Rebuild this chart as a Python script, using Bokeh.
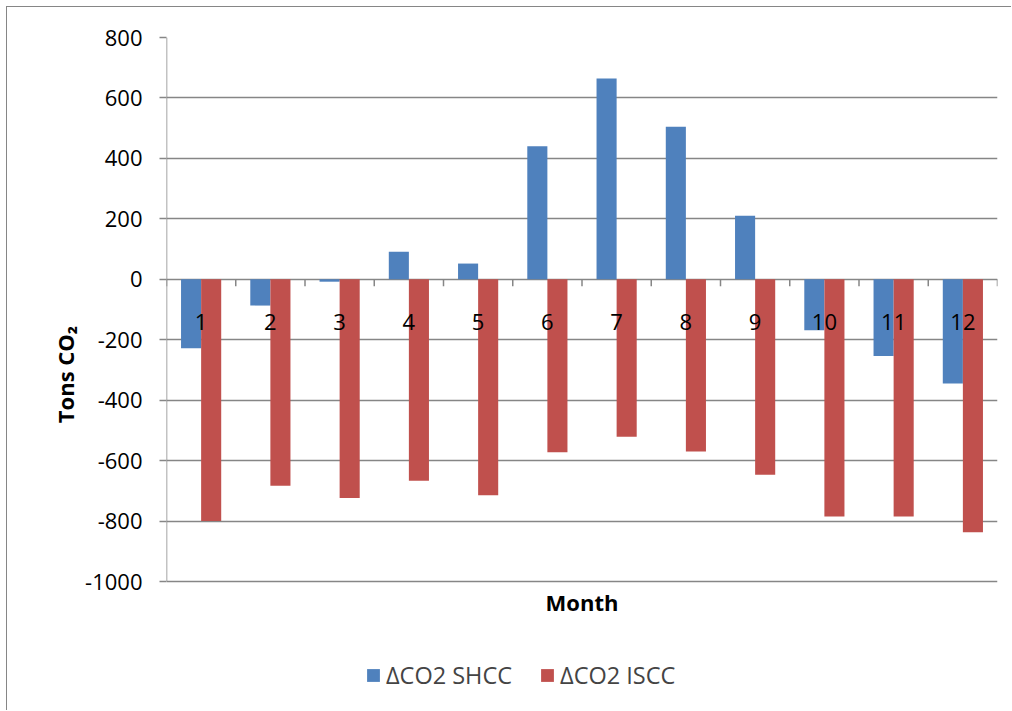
from bokeh.plotting import figure
from bokeh.models import Range1d, FixedTicker, Legend, LegendItem, ColumnDataSource, PrintfTickFormatter
from bokeh.core.properties import value
from bokeh.embed import file_html
from bokeh.resources import INLINE

# Monthly change in CO2 emissions (tons)
months = [1, 2, 3, 4, 5, 6, 7, 8, 9, 10, 11, 12]
month_labels = [str(m) for m in months]
delta_shcc = [-228, -87, -8, 91, 52, 440, 664, 505, 210, -169, -254, -345]
delta_iscc = [-800, -683, -724, -667, -715, -572, -521, -570, -647, -785, -785, -837]
y_ticks = [-1000, -800, -600, -400, -200, 0, 200, 400, 600, 800]
series_names = ["\u0394CO2 SHCC", "\u0394CO2 ISCC"]
x_title = "Month"
y_title = "Tons CO\u2082"

FONT = "Open Sans"
GRID = "#868686"
BLUE = "#4F81BD"
RED = "#C0504D"

Y_MIN, Y_MAX = -1000, 800
FIG_H = 704
TOP_PX = 30
FRAME_PX = FIG_H - TOP_PX      # frame runs to the bottom edge; room below -1000 holds title and legend
GRID_PX = 544                  # pixels spanned by the value scale
units_per_px = (Y_MAX - Y_MIN) / GRID_PX
y_low = Y_MIN - (FRAME_PX - GRID_PX) * units_per_px

BAR_W = 0.29
OFFSET = 0.145
X_LO, X_HI = 0.5, 12.5

p = figure(
    width=1005, height=FIG_H,
    x_range=Range1d(X_LO, X_HI), y_range=Range1d(y_low, Y_MAX),
    output_backend="svg", toolbar_location=None, x_axis_location=None,
    min_border_left=159, min_border_top=TOP_PX, min_border_right=15, min_border_bottom=0,
)
p.margin = (6, 0, 0, 6)
p.styles = {"border-left": f"1px solid {GRID}", "border-top": f"1px solid {GRID}"}
p.outline_line_color = None
p.background_fill_color = "white"
p.border_fill_color = "white"

# y axis (its line is drawn separately so it stops at -1000)
p.yaxis.ticker = FixedTicker(ticks=y_ticks)
p.yaxis.formatter = PrintfTickFormatter(format="%d")
p.yaxis.axis_line_color = None
p.yaxis.major_tick_line_color = GRID
p.yaxis.major_tick_line_width = 1.5
p.yaxis.major_tick_out = 7
p.yaxis.major_tick_in = 0
p.yaxis.minor_tick_line_color = None
p.yaxis.major_label_standoff = 17
p.yaxis.major_label_text_font = FONT
p.yaxis.major_label_text_font_size = "22px"
p.yaxis.major_label_text_color = "black"
p.yaxis.axis_label = y_title
p.yaxis.axis_label_text_font = FONT
p.yaxis.axis_label_text_font_style = "bold"
p.yaxis.axis_label_text_font_size = "22px"
p.yaxis.axis_label_text_color = "black"
p.yaxis.axis_label_standoff = 2

p.xgrid.grid_line_color = None
p.ygrid.ticker = FixedTicker(ticks=y_ticks)
p.ygrid.grid_line_color = GRID
p.ygrid.grid_line_width = 1.5

p.segment(x0=[X_LO], y0=[Y_MIN], x1=[X_LO], y1=[Y_MAX], line_color=GRID, line_width=1.5)

src = ColumnDataSource(dict(
    x_shcc=[m - OFFSET for m in months],
    x_iscc=[m + OFFSET for m in months],
    shcc=delta_shcc,
    iscc=delta_iscc,
))
r1 = p.vbar(x="x_shcc", top="shcc", bottom=0, width=BAR_W, source=src,
            fill_color=BLUE, line_color=None)
r2 = p.vbar(x="x_iscc", top="iscc", bottom=0, width=BAR_W, source=src,
            fill_color=RED, line_color=None)

# category axis along y = 0: boundary ticks and month labels
bounds = [m + 0.5 for m in [0] + months]
p.segment(x0=bounds, y0=[0] * len(bounds), x1=bounds,
          y1=[-7 * units_per_px] * len(bounds), line_color=GRID, line_width=1.5)
p.text(x=months, y=[0] * len(months), text=month_labels, y_offset=43,
       text_align="center", text_baseline="alphabetic",
       text_font=value(FONT), text_font_size="22px", text_color="black")

# horizontal axis title under the value scale
p.text(x=[(X_LO + X_HI) / 2], y=[Y_MIN], text=[x_title], y_offset=20,
       text_align="center", text_baseline="middle",
       text_font=value(FONT), text_font_style="bold", text_font_size="22px",
       text_color="black")

legend = Legend(
    items=[LegendItem(label=series_names[0], renderers=[r1]),
           LegendItem(label=series_names[1], renderers=[r2])],
    orientation="horizontal",
    location=(199, 20),
    label_text_font=FONT, label_text_font_size="23.5px",
    glyph_width=16, glyph_height=16, label_standoff=5, spacing=27,
    padding=0, margin=0, border_line_color=None, background_fill_alpha=0,
)
p.add_layout(legend, "center")

with open("out.html", "w") as f:
    f.write(file_html(p, INLINE))
